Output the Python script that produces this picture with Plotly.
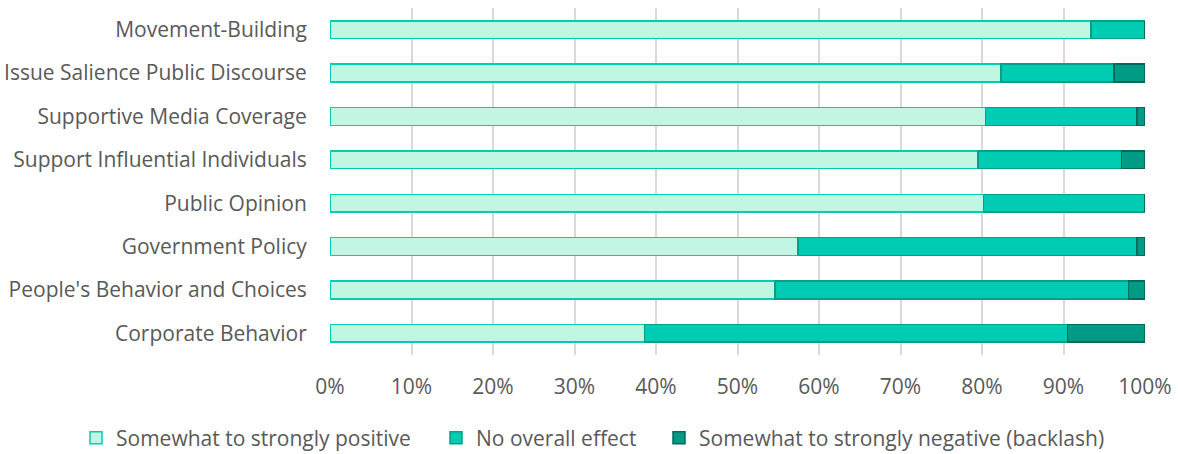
import plotly.graph_objects as go

categories = ["Movement-Building", "Issue Salience Public Discourse", "Supportive Media Coverage",
              "Support Influential Individuals", "Public Opinion", "Government Policy",
              "People's Behavior and Choices", "Corporate Behavior"]
positive = [93.4, 82.3, 80.4, 79.5, 80.2, 57.4, 54.6, 38.6]
no_effect = [6.6, 13.9, 18.6, 17.6, 19.8, 41.6, 43.4, 51.9]
negative = [0.0, 3.8, 1.0, 2.9, 0.0, 1.0, 2.0, 9.5]
series_names = ["Somewhat to strongly positive", "No overall effect", "Somewhat to strongly negative (backlash)"]
tick_vals = [0, 10, 20, 30, 40, 50, 60, 70, 80, 90, 100]
tick_text = [f"{v}%" for v in tick_vals]

fills = ["#C1F6E3", "#00CCB4", "#009A85"]
borders = ["#00CDB4", "#00A08A", "#006B5C"]
legend_ids = ["legend", "legend2", "legend3"]
legend_x_px = [76, 436, 659]

W, H = 1178, 454
FONT = "Open Sans, sans-serif"
FS = 21
COL = "#595959"

fig = go.Figure()
for name, vals, fc, bc, lg in zip(series_names, [positive, no_effect, negative], fills, borders, legend_ids):
    fig.add_trace(go.Bar(
        y=categories, x=vals, name=name, orientation="h",
        marker=dict(color=fc, line=dict(color=bc, width=1.5)),
        width=0.41, legend=lg,
    ))

legend_common = dict(orientation="h", xref="container", xanchor="left",
                     yref="container", y=16 / H, yanchor="middle",
                     font=dict(size=FS, color=COL, family=FONT),
                     bgcolor="rgba(0,0,0,0)", borderwidth=0)

fig.update_layout(
    barmode="stack",
    width=W, height=H,
    margin=dict(l=330, r=33, t=8, b=99, autoexpand=False),
    plot_bgcolor="white", paper_bgcolor="white",
    font=dict(family=FONT, size=FS, color=COL),
    showlegend=True,
    legend=dict(x=legend_x_px[0] / W, **legend_common),
    legend2=dict(x=legend_x_px[1] / W, **legend_common),
    legend3=dict(x=legend_x_px[2] / W, **legend_common),
    xaxis=dict(range=[0, 100], tickvals=tick_vals, ticktext=tick_text, automargin=False,
               showgrid=True, gridcolor="#D9D9D9", gridwidth=2, zeroline=False,
               showline=False, ticks="outside", ticklen=13, tickcolor="rgba(0,0,0,0)",
               tickfont=dict(size=FS, color=COL)),
    yaxis=dict(autorange="reversed", showgrid=False, ticks="outside", ticklen=18, automargin=False,
               tickcolor="rgba(0,0,0,0)", tickfont=dict(size=FS, color=COL)),
)

fig.write_html("out.html")
